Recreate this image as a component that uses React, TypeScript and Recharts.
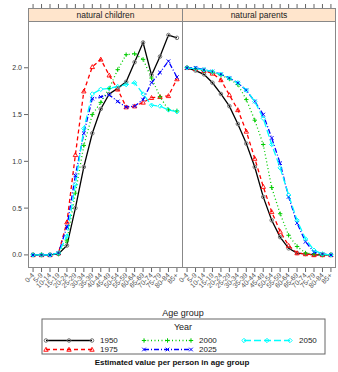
import React from 'react';
import { LineChart, Line, XAxis, YAxis } from 'recharts';

const ageGroups = ['0-4','5-9','10-14','15-19','20-24','25-29','30-34','35-39','40-44','45-49','50-54','55-59','60-64','65-69','70-74','75-79','80-84','85+'];
const years = ['1950', '1975', '2000', '2025', '2050'];
const panels = ['natural children', 'natural parents'];

const children1950 = [0, 0, 0, 0.01, 0.1, 0.5, 0.94, 1.3, 1.56, 1.72, 1.78, 1.85, 2.06, 2.27, 1.92, 2.12, 2.35, 2.32];
const children1975 = [0, 0, 0, 0.02, 0.35, 1.07, 1.75, 2.01, 2.09, 1.92, 1.77, 1.58, 1.59, 1.63, 1.68, 1.69, 1.7, 1.88];
const children2000 = [0, 0, 0, 0.01, 0.15, 0.66, 1.17, 1.5, 1.63, 1.78, 1.98, 2.14, 2.15, 2.09, 1.89, 1.69, 1.55, 1.54];
const children2025 = [0, 0, 0, 0.02, 0.3, 0.85, 1.3, 1.67, 1.69, 1.71, 1.64, 1.58, 1.59, 1.66, 1.84, 1.95, 2.07, 1.9];
const children2050 = [0, 0, 0, 0.02, 0.2, 0.75, 1.35, 1.72, 1.77, 1.78, 1.8, 1.82, 1.84, 1.72, 1.6, 1.59, 1.55, 1.53];

const parents1950 = [2.0, 1.97, 1.93, 1.84, 1.72, 1.59, 1.4, 1.19, 0.94, 0.62, 0.37, 0.19, 0.07, 0.02, 0.01, 0, 0, 0];
const parents1975 = [2.0, 1.99, 1.97, 1.94, 1.87, 1.71, 1.55, 1.32, 1.03, 0.73, 0.46, 0.25, 0.1, 0.02, 0.01, 0, 0, 0];
const parents2000 = [2.0, 1.99, 1.97, 1.95, 1.92, 1.88, 1.82, 1.66, 1.44, 1.18, 0.72, 0.44, 0.21, 0.09, 0.02, 0.01, 0, 0];
const parents2025 = [2.0, 2.0, 1.98, 1.96, 1.93, 1.89, 1.84, 1.76, 1.64, 1.5, 1.25, 0.98, 0.62, 0.34, 0.14, 0.03, 0.01, 0];
const parents2050 = [2.0, 1.99, 1.98, 1.96, 1.93, 1.89, 1.84, 1.76, 1.64, 1.46, 1.18, 0.93, 0.64, 0.37, 0.17, 0.05, 0.01, 0];

const yTicks = [0, 0.5, 1, 1.5, 2];

const childrenSeries = [children1950, children1975, children2000, children2025, children2050];
const parentsSeries = [parents1950, parents1975, parents2000, parents2025, parents2050];

const styles = [
  { color: '#000000', dash: undefined, shape: 'circle', width: 1.3 },
  { color: '#FF0000', dash: '4 3', shape: 'triangle', width: 1.3 },
  { color: '#00CC00', dash: '1 2.5', shape: 'plus', width: 1.3 },
  { color: '#0000FF', dash: '5 2 1 2', shape: 'cross', width: 1.3 },
  { color: '#00FFFF', dash: '7 3', shape: 'diamond', width: 1.3 },
];

const buildRows = (series: number[][]) =>
  ageGroups.map((g, i) => {
    const row: any = { idx: i, group: g };
    years.forEach((y, k) => { row['y' + y] = series[k][i]; });
    return row;
  });

const childrenData = buildRows(childrenSeries);
const parentsData = buildRows(parentsSeries);

const FONT = '"Liberation Sans", Arial, Helvetica, sans-serif';

function Marker({ shape, cx, cy, color }: any) {
  if (cx == null || cy == null) return null;
  const s = 2.2;
  switch (shape) {
    case 'circle':
      return <circle cx={cx} cy={cy} r={1.8} fill="none" stroke="#777" strokeWidth={1} />;
    case 'triangle':
      return <path d={`M${cx},${cy - s}L${cx + s},${cy + s * 0.8}L${cx - s},${cy + s * 0.8}Z`} fill="none" stroke={color} strokeWidth={0.9} />;
    case 'plus':
      return <path d={`M${cx - s},${cy}H${cx + s}M${cx},${cy - s}V${cy + s}`} fill="none" stroke={color} strokeWidth={1} />;
    case 'cross':
      return <path d={`M${cx - 1.8},${cy - 1.8}L${cx + 1.8},${cy + 1.8}M${cx - 1.8},${cy + 1.8}L${cx + 1.8},${cy - 1.8}`} fill="none" stroke={color} strokeWidth={1} />;
    case 'diamond':
      return <path d={`M${cx},${cy - s}L${cx + s},${cy}L${cx},${cy + s}L${cx - s},${cy}Z`} fill="none" stroke={color} strokeWidth={1} />;
  }
  return null;
}

const AgeTick = ({ x, y, payload }: any) => (
  <g transform={`translate(${x},${y}) rotate(-45)`}>
    <text x={0} y={0} dy="0.35em" textAnchor="end" fontSize={7} fill="#555" fontFamily={FONT}>
      {ageGroups[payload.value]}
    </text>
  </g>
);

const xTicks = ageGroups.map((_, i) => i);

function Panel({ data, showY, width, margin }: any) {
  return (
    <LineChart width={width} height={305} data={data} margin={margin}>
      <XAxis
        dataKey="idx"
        type="number"
        domain={[-0.6, ageGroups.length - 0.4]}
        ticks={xTicks}
        interval={0}
        height={35}
        tickSize={4}
        tickLine={{ stroke: '#666' }}
        axisLine={false}
        tick={<AgeTick />}
        allowDataOverflow
      />
      <XAxis
        xAxisId="top"
        orientation="top"
        dataKey="idx"
        type="number"
        domain={[-0.6, ageGroups.length - 0.4]}
        ticks={xTicks}
        interval={0}
        height={17}
        tickSize={17}
        tickLine={{ stroke: '#666' }}
        axisLine={false}
        tickFormatter={() => ''}
        allowDataOverflow
      />
      <YAxis
        type="number"
        domain={[-0.14, 2.5]}
        ticks={yTicks}
        width={28}
        hide={!showY}
        tickSize={4}
        tickLine={{ stroke: '#666' }}
        axisLine={false}
        tick={{ fontSize: 7, fill: '#333', fontFamily: FONT }}
        tickFormatter={(v: number) => v.toFixed(1)}
        allowDataOverflow
      />
      {years.map((y, k) => (
        <Line
          key={y}
          dataKey={'y' + y}
          stroke={styles[k].color}
          strokeWidth={styles[k].width}
          strokeDasharray={styles[k].dash}
          isAnimationActive={false}
          dot={(p: any) => <Marker key={`${y}-${p.index}`} shape={styles[k].shape} cx={p.cx} cy={p.cy} color={styles[k].color} />}
          activeDot={false}
        />
      ))}
    </LineChart>
  );
}

function LegendSample({ k, x1, x2, y }: any) {
  const st = styles[k];
  const mid = (x1 + x2) / 2;
  return (
    <g>
      <line x1={x1} x2={x2} y1={y} y2={y} stroke={st.color} strokeWidth={1.3} strokeDasharray={st.dash} />
      {[x1, mid, x2].map((cx, i) => (
        <Marker key={i} shape={st.shape} cx={cx} cy={y} color={st.color} />
      ))}
    </g>
  );
}

export default function App() {
  const legendCols = [
    { x1: 46, x2: 92, tx: 100 },
    { x1: 144, x2: 191, tx: 199 },
    { x1: 244, x2: 290, tx: 299 },
  ];
  const legendRows = [340.5, 349.5];
  return (
    <div style={{ position: 'absolute', left: 0, top: 0, width: 338, height: 372, background: '#fff', fontFamily: FONT, overflow: 'hidden' }}>
      <div style={{ position: 'absolute', left: 0, top: 0 }}>
        <Panel data={childrenData} showY width={202} margin={{ top: 4, right: 20, bottom: 2, left: 0 }} />
      </div>
      <div style={{ position: 'absolute', left: 160, top: 0 }}>
        <Panel data={parentsData} showY={false} width={178} margin={{ top: 4, right: 2, bottom: 2, left: 22 }} />
      </div>
      {/* panel frames */}
      <div style={{ position: 'absolute', left: 28, top: 21, width: 308, height: 247, border: '1px solid #888', boxSizing: 'border-box', pointerEvents: 'none' }} />
      <div style={{ position: 'absolute', left: 181.5, top: 21, width: 1.5, height: 247, background: '#888', pointerEvents: 'none' }} />
      {/* strips */}
      {panels.map((p, i) => (
        <div
          key={p}
          style={{
            position: 'absolute',
            left: i === 0 ? 28 : 182,
            top: 8,
            width: i === 0 ? 155 : 154,
            height: 14,
            background: '#FFE5CC',
            border: '1px solid #888',
            boxSizing: 'border-box',
            fontSize: 8.5,
            lineHeight: '12px',
            textAlign: 'center',
            color: '#222',
          }}
        >
          {p}
        </div>
      ))}
      <svg style={{ position: 'absolute', left: 0, top: 0 }} width={338} height={372} pointerEvents="none">
        <text x={183} y={316} textAnchor="middle" fontSize={9} fill="#222" fontFamily={FONT}>Age group</text>
        <rect x={42} y={319} width={283} height={35} fill="none" stroke="#666" strokeWidth={1} />
        <text x={183} y={330} textAnchor="middle" fontSize={9} fill="#222" fontFamily={FONT}>Year</text>
        {years.map((y, k) => {
          const col = legendCols[Math.floor(k / 2)];
          const ry = legendRows[k % 2];
          return (
            <g key={y}>
              <LegendSample k={k} x1={col.x1} x2={col.x2} y={ry} />
              <text x={col.tx} y={ry} dy="0.35em" fontSize={8} fill="#222" fontFamily={FONT}>{y}</text>
            </g>
          );
        })}
        <text x={172} y={365} textAnchor="middle" fontSize={8} fontWeight="bold" fill="#111" fontFamily={FONT}>Estimated value per person in age group</text>
      </svg>
    </div>
  );
}
